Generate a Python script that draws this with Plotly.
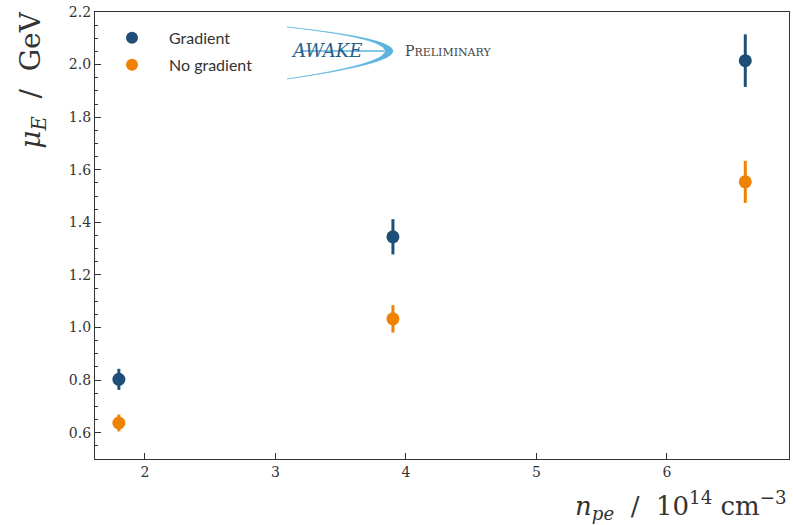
import plotly.graph_objects as go

# Data
n_pe = [1.8, 3.9, 6.6]
grad_mu = [0.803, 1.345, 2.015]
grad_err = [0.040, 0.067, 0.100]
nograd_mu = [0.637, 1.033, 1.554]
nograd_err = [0.032, 0.052, 0.080]

BLUE = "#1f4e79"
ORANGE = "#ef8200"
LOGO = "#5ab4de"

fig = go.Figure()
fig.add_trace(go.Scatter(
    x=n_pe, y=grad_mu, mode="markers", name="Gradient", legendgroup="g",
    marker=dict(color=BLUE, size=13),
    error_y=dict(type="data", array=grad_err, color=BLUE, thickness=3, width=0),
))
fig.add_trace(go.Scatter(
    x=n_pe, y=nograd_mu, mode="markers", name="No gradient", legendgroup="n",
    marker=dict(color=ORANGE, size=13),
    error_y=dict(type="data", array=nograd_err, color=ORANGE, thickness=3, width=0),
))

axis_common = dict(
    showline=True, linecolor="#333", linewidth=1.3, mirror=True,
    ticks="inside", ticklen=6, tickwidth=1.2, tickcolor="#333",
    showgrid=False, zeroline=False,
    tickfont=dict(family="DejaVu Serif", size=14, color="#333"),
)
fig.update_xaxes(range=[1.617, 6.935], tickvals=[2, 3, 4, 5, 6], **axis_common)
fig.update_yaxes(range=[0.5, 2.2], tickvals=[0.6, 0.8, 1.0, 1.2, 1.4, 1.6, 1.8, 2.0, 2.2],
                 tickformat=".1f",
                 minor=dict(ticks="inside", ticklen=3, tickwidth=1, tickcolor="#333", dtick=0.05),
                 **axis_common)

def px2paper(px, py):
    return (px - 95) / 694, (459 - py) / 447

x0, y0 = px2paper(287, 27)
x2, y2 = px2paper(287, 79)
xo, yt = px2paper(393, 51)
xi, _ = px2paper(385, 51)
cxo = 2 * xo - x0
cxi = 2 * xi - x0
cy = 2 * yt - 0.5 * (y0 + y2)
path = f"M {x0},{y0} Q {cxo},{cy} {x2},{y2} Q {cxi},{cy} {x0},{y0} Z"
fig.add_shape(type="path", path=path, xref="paper", yref="paper",
              fillcolor=LOGO, line=dict(color=LOGO, width=0.5))
la, lb = px2paper(300, 51)
lc, _ = px2paper(384, 51)
fig.add_shape(type="line", xref="paper", yref="paper", x0=la, y0=lb, x1=lc, y1=lb,
              line=dict(color=LOGO, width=1.3))

fig.add_annotation(x=px2paper(289, 51)[0], y=lb, xref="paper", yref="paper",
                   text="<i>AWAKE</i>", showarrow=False, xanchor="left", yanchor="middle",
                   font=dict(family="DejaVu Serif", size=18, color="#2a5f8a"))
fig.add_annotation(x=px2paper(403, 51)[0], y=lb, xref="paper", yref="paper",
                   text="P<span style='font-size:11px'>RELIMINARY</span>", showarrow=False,
                   xanchor="left", yanchor="middle",
                   font=dict(family="DejaVu Serif", size=14, color="#444"))

# Axis titles
fig.add_annotation(x=1.0, y=-0.058, xref="paper", yref="paper",
                   text="<i>n</i><sub><i>pe</i></sub>  /  10<sup>14</sup> cm<sup>−3</sup>",
                   showarrow=False, xanchor="right", yanchor="top",
                   font=dict(family="DejaVu Serif", size=26, color="#333"))
fig.add_annotation(x=-0.09, y=1.005, xref="paper", yref="paper",
                   text="<i>μ</i><sub><i>E</i></sub>  /  GeV", textangle=-90,
                   showarrow=False, xanchor="center", yanchor="top",
                   font=dict(family="DejaVu Serif", size=28, color="#333"))

fig.update_layout(
    width=793, height=525,
    margin=dict(l=95, r=4, t=12, b=66),
    paper_bgcolor="white", plot_bgcolor="white",
    showlegend=True,
    legend=dict(x=0.0, y=0.98, xanchor="left", yanchor="top",
                bgcolor="rgba(0,0,0,0)", itemsizing="constant", itemwidth=64,
                traceorder="grouped", tracegroupgap=3,
                font=dict(family="Lato", size=16, color="#333")),
)

fig.write_html("out.html")
